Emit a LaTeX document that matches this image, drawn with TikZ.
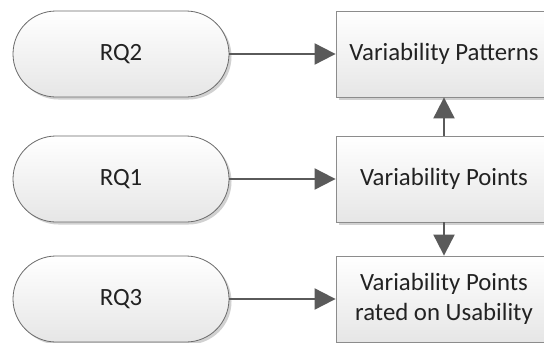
\documentclass[tikz,border=0pt]{standalone}
\usepackage{fontspec}
\setmainfont{Carlito}
\usetikzlibrary{shadows,arrows.meta}
\definecolor{edgegray}{HTML}{5A5A5A}
\definecolor{framegray}{HTML}{8C8C8C}
\definecolor{shadegray}{HTML}{E6E6E6}
\definecolor{inkgray}{HTML}{222222}
\begin{document}
\begin{tikzpicture}[x=1pt,y=-1pt,
  base/.style={minimum width=216pt,minimum height=86pt,inner sep=0pt,
    top color=white,bottom color=shadegray,
    draw=framegray,line width=0.8pt,align=center,text=inkgray,
    font=\fontsize{24.8}{30}\selectfont,
    drop shadow={shadow xshift=2.5pt,shadow yshift=-2.5pt,fill=black!18,opacity=1}},
  pill/.style={base,rounded corners=43pt,draw=edgegray!90},
  stepbox/.style={base},
  flow/.style={draw=edgegray,line width=2pt,-{Triangle[length=21pt,width=21pt]}}]
\clip (0,0) rectangle (544,343);
\fill[white] (0,0) rectangle (544,343);
% research questions
\node[pill] (rq2) at (121,54) {RQ2};
\node[pill] (rq1) at (121,179) {RQ1};
\node[pill] (rq3) at (121,299) {RQ3};
% results
\node[stepbox] (vpat) at (444,54) {Variability Patterns};
\node[stepbox] (vpts) at (444,179) {Variability Points};
\node[stepbox] (vrat) at (444,299) {Variability Points\\rated on Usability};
% connectors
\draw[flow] (rq2) -- (vpat);
\draw[flow] (rq1) -- (vpts);
\draw[flow] (rq3) -- (vrat);
\draw[flow] (vpts) -- (vpat);
\draw[flow] (vpts) -- (vrat);
\end{tikzpicture}
\end{document}
